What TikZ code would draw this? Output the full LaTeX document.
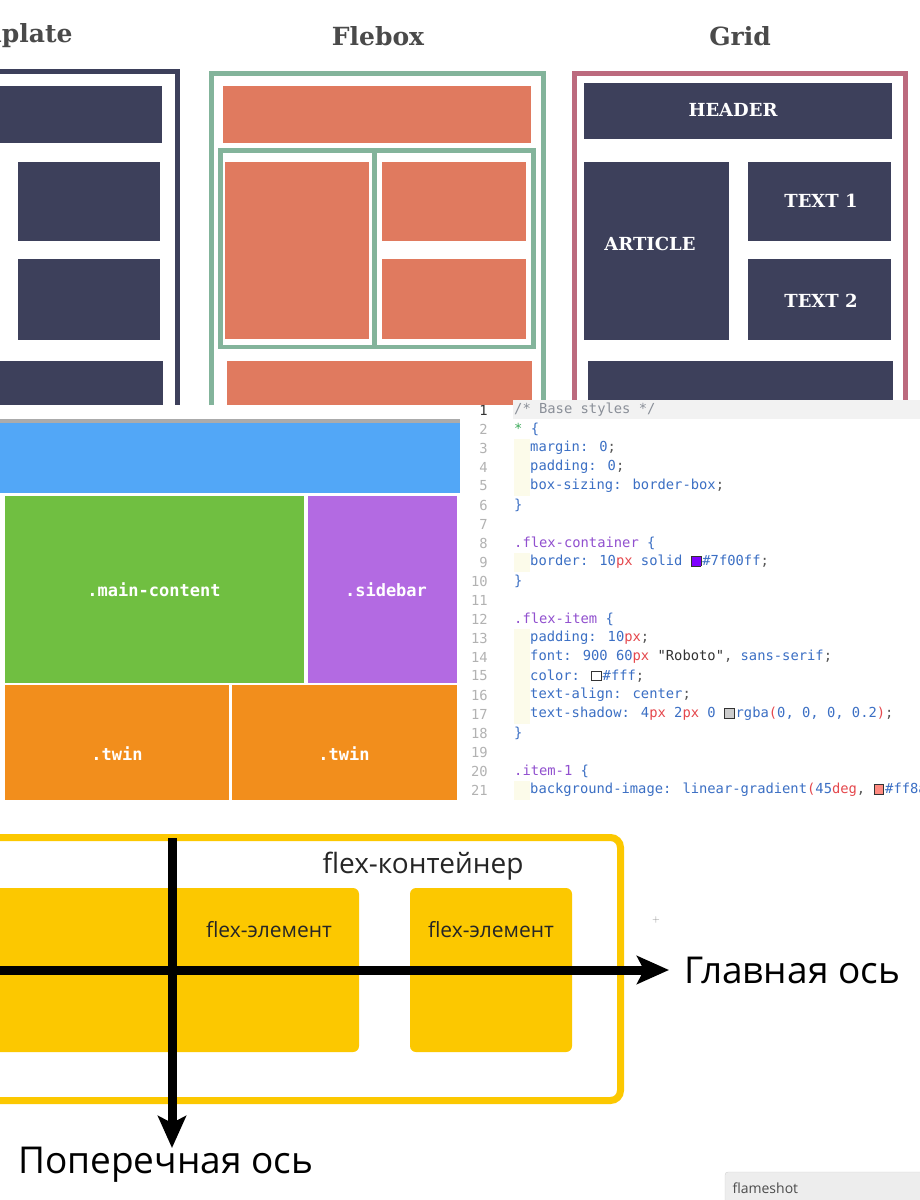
\documentclass[tikz,border=0pt]{standalone}
\usepackage{fontspec}
\usetikzlibrary{positioning,arrows.meta}
\newfontfamily\slab{DejaVu Serif}
\newfontfamily\mono{DejaVu Sans Mono}
\newfontfamily\uisans{Open Sans}

\definecolor{titlegrey}{HTML}{4A4A4A}
\definecolor{tplnavy}{HTML}{3D405B}
\definecolor{flexorange}{HTML}{E07A5F}
\definecolor{flexgreen}{HTML}{83B49B}
\definecolor{gridpink}{HTML}{BC6A7E}
\definecolor{webblue}{HTML}{52A7F7}
\definecolor{weblime}{HTML}{70BF41}
\definecolor{webpurple}{HTML}{B36AE2}
\definecolor{weborange}{HTML}{F28E1C}
\definecolor{flexyellow}{HTML}{FCC800}
\definecolor{ccomment}{HTML}{8A8F98}
\definecolor{csel}{HTML}{9150CF}
\definecolor{ckey}{HTML}{3B6FC4}
\definecolor{cunit}{HTML}{E5484D}
\definecolor{cstr}{HTML}{333333}
\definecolor{cpun}{HTML}{555555}
\definecolor{cstar}{HTML}{3CAA5A}
\definecolor{c7f00ff}{HTML}{7F00FF}
\definecolor{cshadow}{HTML}{CCCCCC}
\definecolor{csalmon}{HTML}{FF8A80}
\definecolor{guideyellow}{HTML}{FCFBEA}

\newcommand{\cssCom}[1]{\textcolor{ccomment}{#1}}
\newcommand{\cssSel}[1]{\textcolor{csel}{#1}}
\newcommand{\cssKey}[1]{\textcolor{ckey}{#1}}
\newcommand{\cssUnit}[1]{\textcolor{cunit}{#1}}
\newcommand{\cssStr}[1]{\textcolor{cstr}{#1}}
\newcommand{\cssPun}[1]{\textcolor{cpun}{#1}}
\newcommand{\swatch}[1]{{\setlength{\fboxsep}{0pt}\setlength{\fboxrule}{0.8pt}\fcolorbox{black!80}{#1}{\rule{0pt}{9pt}\rule{9pt}{0pt}}}\kern1pt}

\begin{document}
\begin{tikzpicture}[x=1pt,y=-1pt,
    pagetitle/.style={font=\slab\bfseries\fontsize{25}{28}\selectfont, text=titlegrey},
    cellfont/.style={font=\slab\bfseries\fontsize{18}{20}\selectfont, text=white},
    clsname/.style={font=\mono\bfseries\fontsize{17}{20}\selectfont, text=white},
    codeline/.style={font=\mono\fontsize{13.8}{16}\selectfont, anchor=west, inner sep=0pt},
    lineno/.style={font=\mono\fontsize{13.8}{16}\selectfont, text=black!30, anchor=east, inner sep=0pt},
    elemlabel/.style={font=\uisans\fontsize{21}{24}\selectfont, text=black!85},
    axislabel/.style={font=\uisans\fontsize{37}{42}\selectfont, inner sep=0pt, anchor=west},
    axisarrow/.style={line width=9pt, -{Stealth[length=32pt,width=28pt,inset=7pt]}}
  ]
  \useasboundingbox (0,0) rectangle (920,1200);
  \clip (0,0) rectangle (920,1200);
  \fill[white] (0,0) rectangle (920,1200);

  % layout titles
  \node[pagetitle, anchor=east] (t1) at (76,36) {Template};
  \node[pagetitle] (t2) at (378,36) {Flebox};
  \node[pagetitle] (t3) at (740,36) {Grid};

  % template
  \draw[tplnavy, line width=5pt] (-10,71.5) -- (177.5,71.5) -- (177.5,405);
  \fill[tplnavy] (-10,86) rectangle (162,143);
  \fill[tplnavy] (18,162) rectangle (160,241);
  \fill[tplnavy] (18,259) rectangle (160,340);
  \fill[tplnavy] (-10,361) rectangle (163,405);

  % flexbox
  \draw[flexgreen, line width=5pt] (211.5,405) -- (211.5,73.5) -- (543.5,73.5) -- (543.5,405);
  \fill[flexorange] (223,86) rectangle (531,143);
  \draw[flexgreen, line width=4.5pt] (220.5,150.5) rectangle (533.5,347);
  \draw[flexgreen, line width=4.5pt] (374.5,150.5) -- (374.5,347);
  \fill[flexorange] (225,162) rectangle (369,339);
  \fill[flexorange] (382,162) rectangle (526,241);
  \fill[flexorange] (382,259) rectangle (526,339);
  \fill[flexorange] (227,361) rectangle (532,405);

  % grid
  \draw[gridpink, line width=5pt] (574.5,405) -- (574.5,73.5) -- (905.5,73.5) -- (905.5,405);
  \fill[tplnavy] (584,83) rectangle (892,139);
  \fill[tplnavy] (584,162) rectangle (729,340);
  \fill[tplnavy] (748,162) rectangle (891,241);
  \fill[tplnavy] (748,259) rectangle (891,340);
  \fill[tplnavy] (588,361) rectangle (893,405);
  \node[cellfont] (hd) at (733,110) {HEADER};
  \node[cellfont] (ar) at (650,244) {ARTICLE};
  \node[cellfont] (x1) at (821,201) {TEXT 1};
  \node[cellfont] (x2) at (821,301) {TEXT 2};

  % css layout
  \fill[black!33] (0,419) rectangle (460,423);
  \fill[webblue] (0,423) rectangle (460,493);
  \fill[weblime] (5,496) rectangle (304,683);
  \fill[webpurple] (308,496) rectangle (457,683);
  \fill[weborange] (5,685) rectangle (229,800);
  \fill[weborange] (232,685) rectangle (457,800);
  \node[clsname] (mc) at (154,590) {.main-content};
  \node[clsname] (sb) at (386,590) {.sidebar};
  \node[clsname] (w1) at (117,754) {.twin};
  \node[clsname] (w2) at (344,754) {.twin};

  % code editor
  \fill[black!5] (513,400) rectangle (920,419);
  \foreach \n in {3,4,5,9,13,14,15,16,17,21}
    \fill[guideyellow] (514,{400.5+(\n-1)*19}) rectangle (530,{419.5+(\n-1)*19});
  \node[lineno, text=black!80] (n1) at (488,410) {1};
  \foreach \n in {2,...,21}
    \node[lineno] (n\n) at (488,{410+(\n-1)*19}) {\n};
  \node[codeline] (c1) at (514,410) {\cssCom{/* Base styles */}};
  \node[codeline] (c2) at (514,429) {\textcolor{cstar}{*} \cssKey{\{}};
  \node[codeline] (c3) at (530,448) {\cssKey{margin: 0}\cssPun{;}};
  \node[codeline] (c4) at (530,467) {\cssKey{padding: 0}\cssPun{;}};
  \node[codeline] (c5) at (530,486) {\cssKey{box-sizing: border-box}\cssPun{;}};
  \node[codeline] (c6) at (514,505) {\cssKey{\}}};
  \node[codeline] (c8) at (514,543) {\cssSel{.flex-container} \cssKey{\{}};
  \node[codeline] (c9) at (530,562) {\cssKey{border: 10}\cssUnit{px} \cssKey{solid} \swatch{c7f00ff}\cssKey{\#7f00ff}\cssPun{;}};
  \node[codeline] (c10) at (514,581) {\cssKey{\}}};
  \node[codeline] (c12) at (514,619) {\cssSel{.flex-item} \cssKey{\{}};
  \node[codeline] (c13) at (530,638) {\cssKey{padding: 10}\cssUnit{px}\cssPun{;}};
  \node[codeline] (c14) at (530,657) {\cssKey{font: 900 60}\cssUnit{px} \cssStr{"Roboto"}\cssPun{,} \cssKey{sans-serif}\cssPun{;}};
  \node[codeline] (c15) at (530,676) {\cssKey{color:} \swatch{white}\cssKey{\#fff}\cssPun{;}};
  \node[codeline] (c16) at (530,695) {\cssKey{text-align: center}\cssPun{;}};
  \node[codeline] (c17) at (530,714) {\cssKey{text-shadow: 4}\cssUnit{px} \cssKey{2}\cssUnit{px} \cssKey{0} \swatch{cshadow}\cssKey{rgba}\cssUnit{(}\cssKey{0, 0, 0, 0.2}\cssUnit{)}\cssPun{;}};
  \node[codeline] (c18) at (514,733) {\cssKey{\}}};
  \node[codeline] (c20) at (514,771) {\cssSel{.item-1} \cssKey{\{}};
  \node[codeline] (c21) at (530,790) {\cssKey{background-image: linear-gradient}\cssUnit{(}\cssKey{45}\cssUnit{deg}\cssPun{,} \swatch{csalmon}\cssKey{\#ff8a80}};

  % flex axes
  \draw[flexyellow, line width=7pt, rounded corners=10pt] (-20,837.5) rectangle (620.5,1100.5);
  \fill[flexyellow, rounded corners=6pt] (-20,888) rectangle (359,1052);
  \fill[flexyellow, rounded corners=6pt] (410,888) rectangle (572,1052);
  \node[elemlabel, font=\uisans\fontsize{28}{32}\selectfont] (ct) at (423,866) {flex-контейнер};
  \node[elemlabel] (e1) at (269,930) {flex-элемент};
  \node[elemlabel] (e2) at (491,930) {flex-элемент};
  \coordinate (hs) at (-10,970);
  \coordinate (ht) at (669,970);
  \coordinate (vs) at (172,838);
  \coordinate (vt) at (172,1148);
  \draw[axisarrow] (hs) -- (ht);
  \draw[axisarrow] (vs) -- (vt);
  \node[axislabel, right=15pt of ht] (ma) {Главная ось};
  \node[axislabel] (ca) at (18,1165) {Поперечная ось};
  \node[text=black!45, font=\fontsize{10}{10}\selectfont] (cur) at (656,920) {+};

  % screenshot tool tag
  \draw[fill=black!7, draw=black!18, rounded corners=3pt] (725,1172) rectangle (930,1210);
  \node[font=\uisans\fontsize{14}{16}\selectfont, text=black!70, anchor=west] (fs) at (729,1188) {flameshot};
\end{tikzpicture}
\end{document}
